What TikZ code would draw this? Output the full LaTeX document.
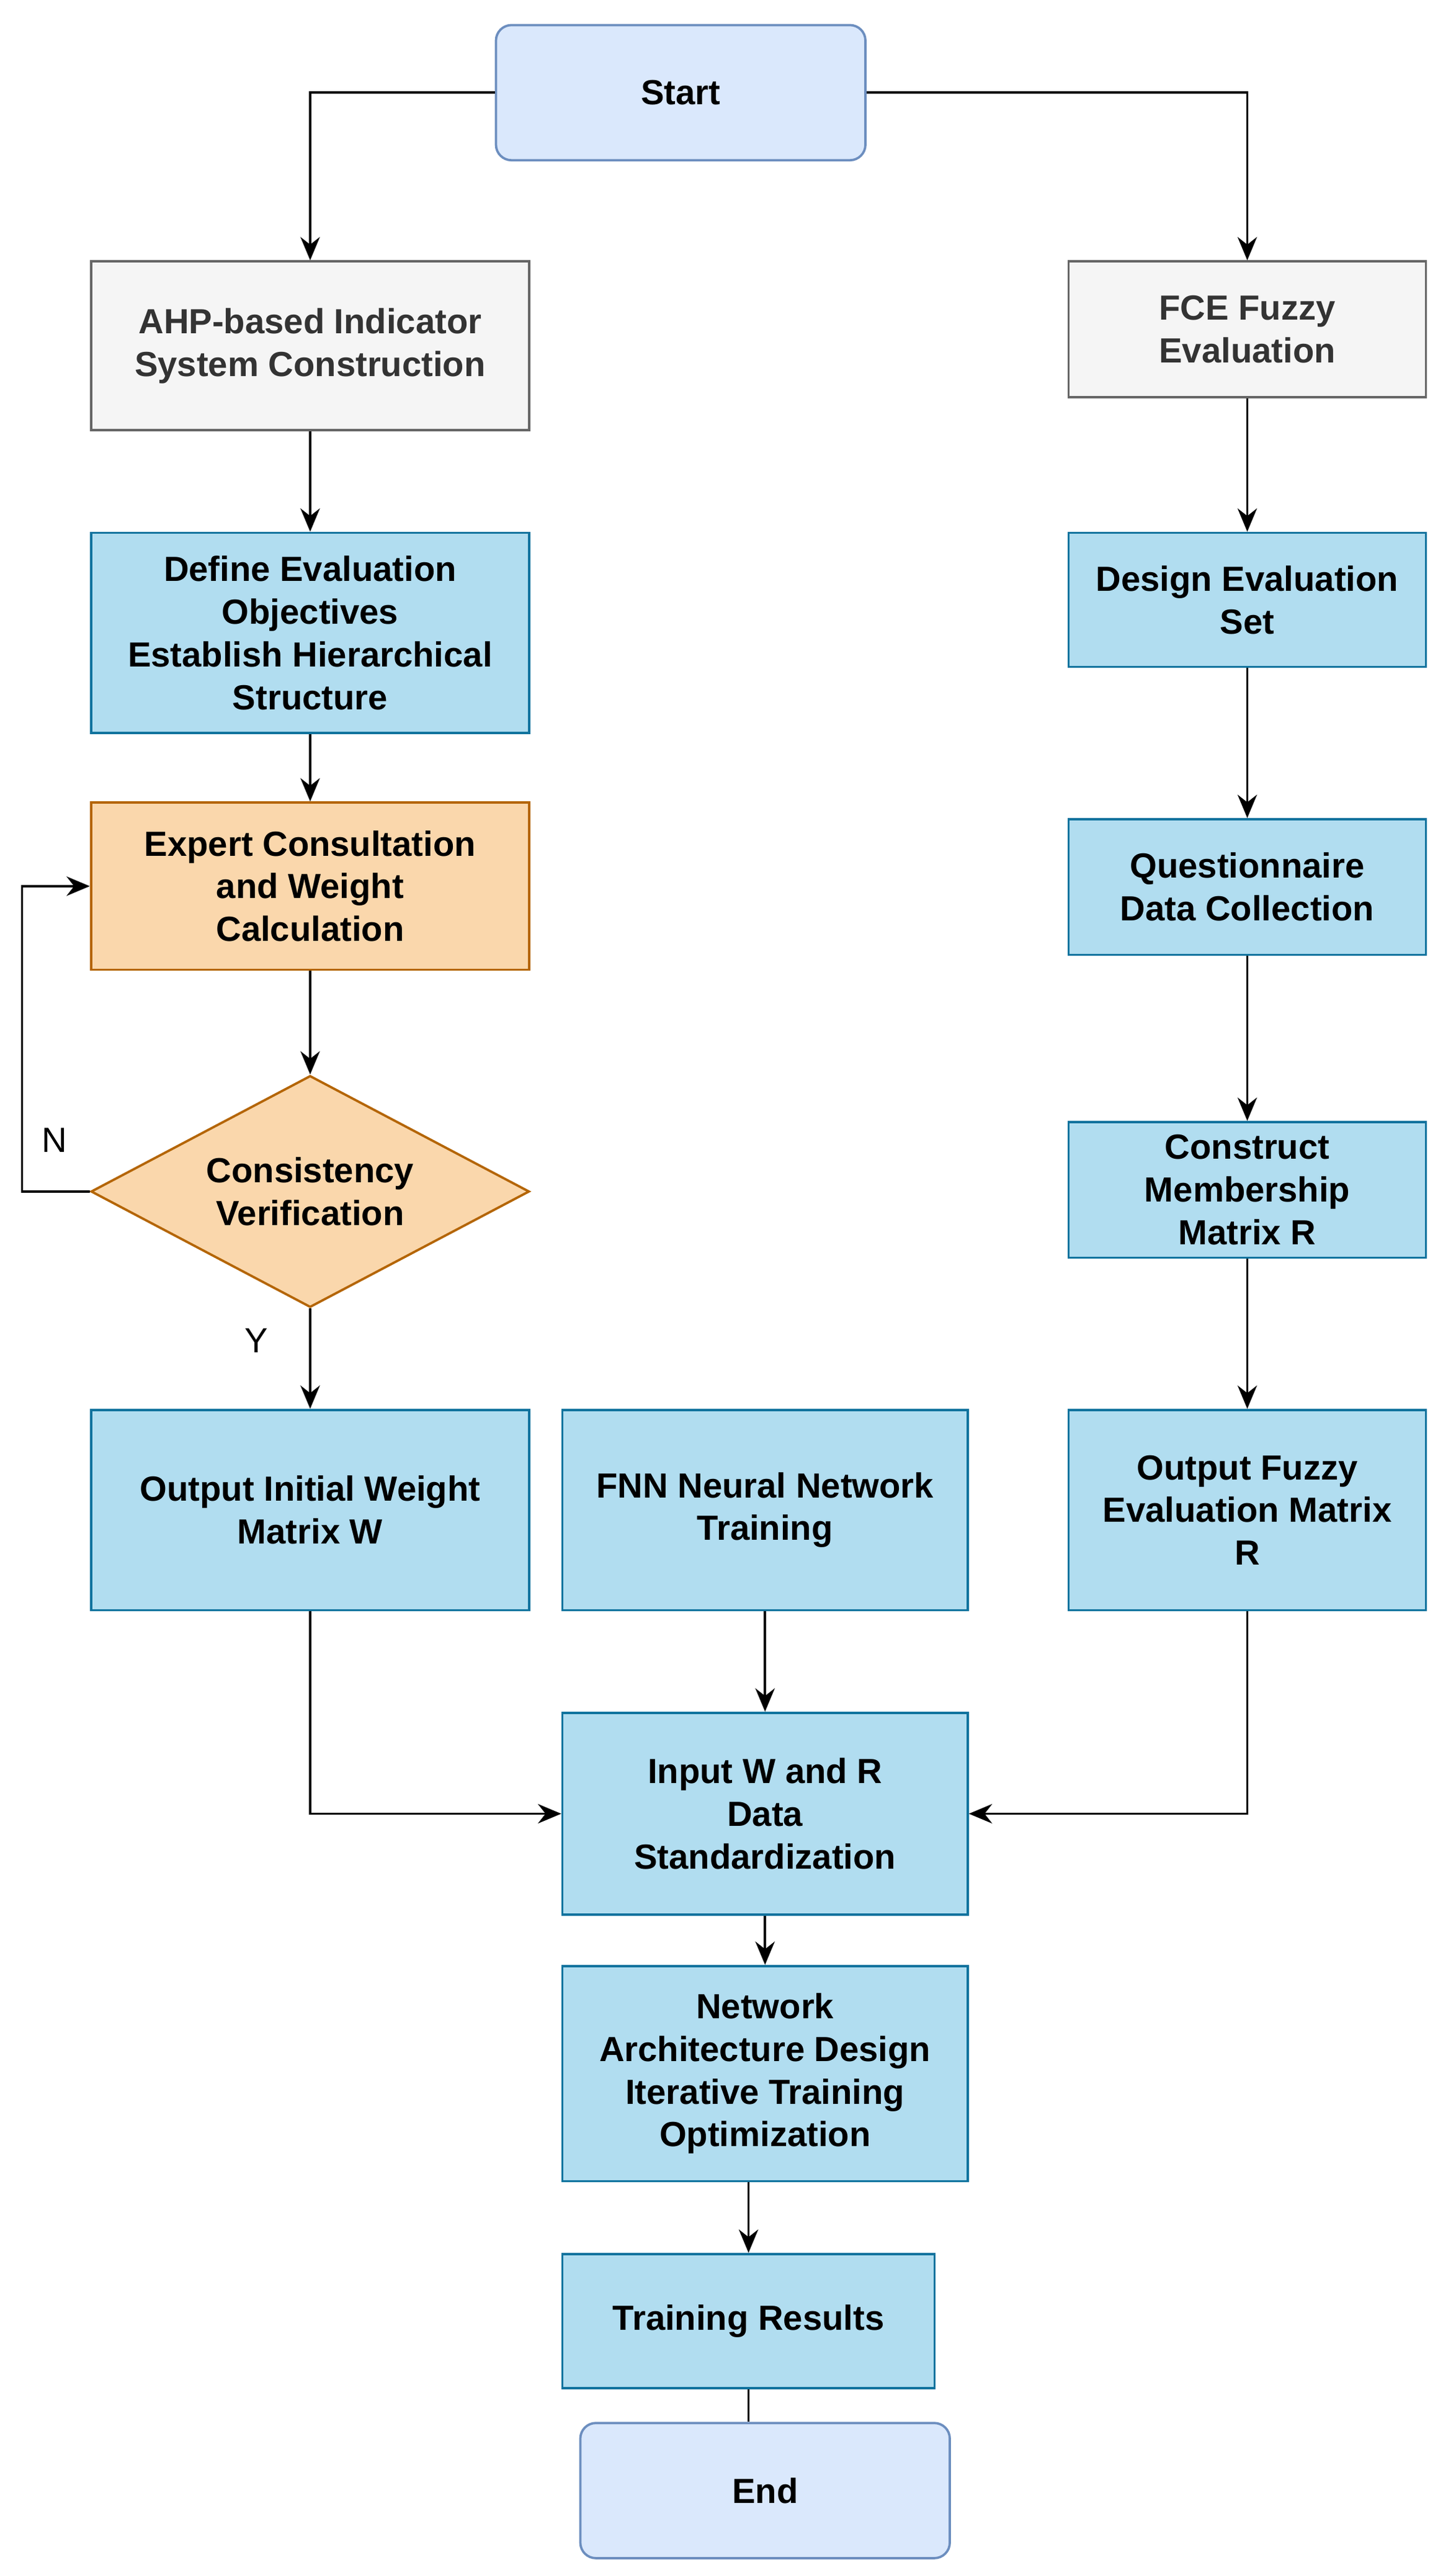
\documentclass[tikz,border=0pt]{standalone}
\usepackage{fontspec}
\setmainfont{Liberation Sans}
\usetikzlibrary{shapes.geometric,arrows.meta}
\definecolor{bluefill}{HTML}{DAE8FC}
\definecolor{blueline}{HTML}{6C8EBF}
\definecolor{cyanfill}{HTML}{B1DDF0}
\definecolor{cyanline}{HTML}{10739E}
\definecolor{grayfill}{HTML}{F5F5F5}
\definecolor{grayline}{HTML}{666666}
\definecolor{orfill}{HTML}{FAD7AC}
\definecolor{orline}{HTML}{B46504}
\begin{document}
\begin{tikzpicture}[x=0.03cm,y=-0.03cm,
  every node/.style={font=\fontsize{18}{22}\selectfont\bfseries, align=center, line width=1.2pt, inner sep=2pt},
  term/.style={draw=blueline, fill=bluefill, rounded corners=8pt, minimum width=6.7cm, minimum height=2.45cm},
  head/.style={draw=grayline, fill=grayfill, text=black!80},
  proc/.style={draw=cyanline, fill=cyanfill},
  exp/.style={draw=orline, fill=orfill},
  arr/.style={line width=1.2pt, -{Stealth[length=12pt,width=10pt]}}]
\useasboundingbox (0,0) rectangle (880,1553);
% nodes
\node[term] (start) at (411.5,56) {Start};
\node[head, minimum width=7.95cm, minimum height=3.06cm] (ahp) at (187.5,209) {AHP-based Indicator\\System Construction};
\node[head, minimum width=6.48cm, minimum height=2.46cm] (fce) at (754,199) {FCE Fuzzy\\Evaluation};
\node[proc, minimum width=7.95cm, minimum height=3.63cm] (def) at (187.5,382.5) {Define Evaluation\\Objectives\\Establish Hierarchical\\Structure};
\node[proc, minimum width=6.48cm, minimum height=2.43cm] (des) at (754,362.5) {Design Evaluation\\Set};
\node[exp, minimum width=7.95cm, minimum height=3.03cm] (expc) at (187.5,535.5) {Expert Consultation\\and Weight\\Calculation};
\node[proc, minimum width=6.48cm, minimum height=2.46cm] (que) at (754,536) {Questionnaire\\Data Collection};
\node[exp, diamond, aspect=1.9, minimum width=7.95cm, minimum height=4.2cm, inner sep=0pt] (dia) at (187.5,720) {Consistency\\Verification};
\node[proc, minimum width=6.48cm, minimum height=2.46cm] (con) at (754,719) {Construct\\Membership\\Matrix R};
\node[proc, minimum width=7.95cm, minimum height=3.63cm] (oiw) at (187.5,912.5) {Output Initial Weight\\Matrix W};
\node[proc, minimum width=7.35cm, minimum height=3.63cm] (fnn) at (462.5,912.5) {FNN Neural Network\\Training};
\node[proc, minimum width=6.48cm, minimum height=3.63cm] (ofe) at (754,912.5) {Output Fuzzy\\Evaluation Matrix\\R};
\node[proc, minimum width=7.35cm, minimum height=3.66cm] (inp) at (462.5,1096) {Input W and R\\Data\\Standardization};
\node[proc, minimum width=7.35cm, minimum height=3.9cm] (net) at (462.5,1253) {Network\\Architecture Design\\Iterative Training\\Optimization};
\node[proc, minimum width=6.75cm, minimum height=2.43cm] (tr) at (452.5,1402.5) {Training Results};
\node[term] (end) at (462.5,1505) {End};
% connectors
\draw[arr] (start.west) -| (ahp.north);
\draw[arr] (start.east) -| (fce.north);
\draw[arr] (ahp) -- (def);
\draw[arr] (def) -- (expc);
\draw[arr] (expc) -- (dia);
\draw[arr] (dia.west) -- ++(-41,0) coordinate (nl) |- (expc.west);
\node[font=\fontsize{18}{22}\selectfont] at (33,689) {N};
\draw[arr] (dia.south) -- (oiw.north);
\node[font=\fontsize{18}{22}\selectfont] at (155,810) {Y};
\draw[arr] (fce) -- (des);
\draw[arr] (des) -- (que);
\draw[arr] (que) -- (con);
\draw[arr] (con) -- (ofe);
\draw[arr] (oiw.south) |- (inp.west);
\draw[arr] (ofe.south) |- (inp.east);
\draw[arr] (fnn) -- (inp);
\draw[arr] (inp) -- (net);
\draw[arr] (net.south -| tr.north) -- (tr.north);
\draw[line width=1.2pt] (tr.south) -- (tr.south |- end.north);
\end{tikzpicture}
\end{document}
